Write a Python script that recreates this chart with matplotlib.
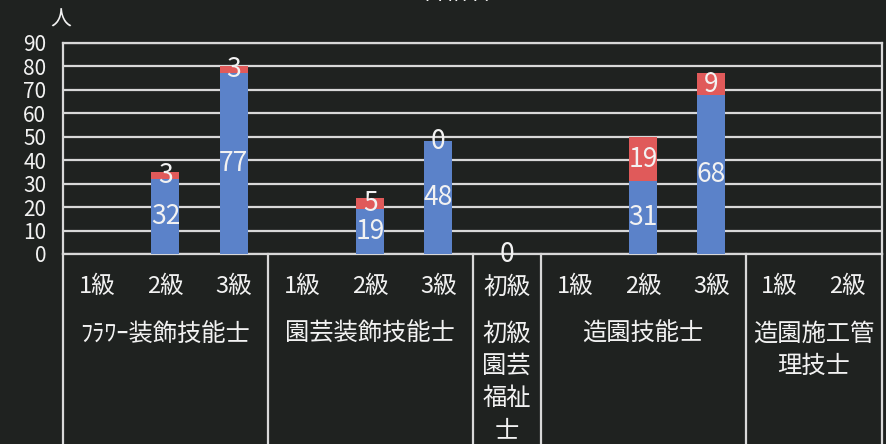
import matplotlib.pyplot as plt
import numpy as np

plt.rcParams['font.family'] = ['Noto Sans CJK JP', 'DejaVu Sans']

# data
levels = ["1級", "2級", "3級", "1級", "2級", "3級", "初級", "1級", "2級", "3級", "1級", "2級"]
groups = ["ﾌﾗﾜｰ装飾技能士", "園芸装飾技能士", "初級\n園芸\n福祉\n士", "造園技能士", "造園施工管\n理技士"]
group_sizes = [3, 3, 1, 3, 2]
blue_vals = [None, 32, 77, None, 19, 48, None, None, 31, 68, None, None]
red_vals = [None, 3, 3, None, 5, 0, 0, None, 19, 9, None, None]
yticks = [0, 10, 20, 30, 40, 50, 60, 70, 80, 90]

BG = "#1f2220"
LINE = "#d8d8d8"
BLUE = "#5b82c9"
RED = "#e05a5a"
TXT = "#f2f2f2"

fig = plt.figure(figsize=(8.86, 4.44), dpi=100, facecolor=BG)
ax = fig.add_axes([63 / 886, 190 / 444, 819 / 886, 211 / 444])
ax.set_facecolor(BG)

x = np.arange(len(levels))
blue = np.array([np.nan if v is None else v for v in blue_vals], dtype=float)
red = np.array([np.nan if v is None else v for v in red_vals], dtype=float)
base = np.nan_to_num(blue)

ax.bar(x, blue, width=0.41, color=BLUE, zorder=3)
ax.bar(x, red, width=0.41, bottom=base, color=RED, zorder=3)

for i in x:
    if not np.isnan(blue[i]):
        ax.text(i, blue[i] / 2, f"{int(blue[i])}", ha="center", va="center",
                color=TXT, fontsize=19, zorder=4)
    if not np.isnan(red[i]):
        ax.text(i, base[i] + red[i] / 2, f"{int(red[i])}", ha="center", va="center",
                color=TXT, fontsize=19, zorder=4, clip_on=False)

ax.set_xlim(-0.5, len(levels) - 0.5)
ax.set_ylim(0, 90)
ax.set_yticks(yticks)
ax.set_xticks([])
ax.tick_params(axis="y", length=0, pad=12, labelsize=15, labelcolor=TXT)
ax.yaxis.grid(True, color=LINE, linewidth=1.6, zorder=1)
ax.set_axisbelow(True)
for s in ax.spines.values():
    s.set_color(LINE)
    s.set_linewidth(1.6)

# category table below the plot
bounds = np.concatenate([[0], np.cumsum(group_sizes)]) - 0.5
for b in bounds:
    ax.plot([b, b], [0, -82], color=LINE, linewidth=1.6, clip_on=False)

for i, lv in enumerate(levels):
    ax.text(i, -14, lv, ha="center", va="center", color=TXT, fontsize=17, clip_on=False)

for g, lo, hi in zip(groups, bounds[:-1], bounds[1:]):
    ax.text((lo + hi) / 2, -28.5, g, ha="center", va="top", color=TXT, fontsize=17.5,
            linespacing=1.3, clip_on=False)

ax.text(-0.003, 1.11, "人", transform=ax.transAxes, ha="center", va="center",
        color=TXT, fontsize=15)
fig.text(0.515, 1.016, "合格者", ha="center", va="center", color=TXT, fontsize=17)

fig.savefig("out.png", dpi=100, facecolor=BG)
